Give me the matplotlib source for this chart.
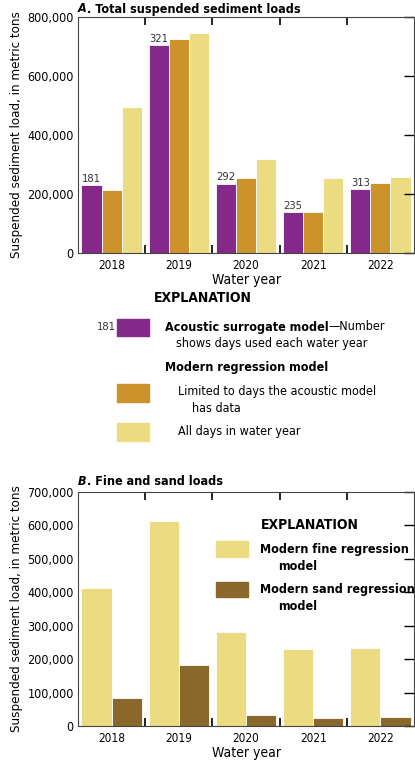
import numpy as np
import matplotlib.pyplot as plt
from matplotlib.patches import Rectangle
from matplotlib.ticker import FuncFormatter

plt.rcParams["font.family"] = ["DejaVu Sans"]
plt.rcParams["font.stretch"] = "condensed"
plt.rcParams["font.size"] = 8.5

years = ["2018", "2019", "2020", "2021", "2022"]
acoustic = [230000, 704000, 235000, 139000, 216000]
limited = [212000, 724000, 255000, 139000, 238000]
all_days = [494000, 747000, 319000, 255000, 259000]
days_used = [181, 321, 292, 235, 313]
fine = [414000, 612000, 280000, 231000, 233000]
sand = [83000, 183000, 33000, 25000, 26000]

PURPLE = "#84288A"
ORANGE = "#CC922B"
YELLOW = "#EBDC82"
BROWN = "#8A672B"

W, H = 415, 763
fig = plt.figure(figsize=(W / 100, H / 100), dpi=100)


def px_axes(left, top, right, bottom):
    return fig.add_axes([left / W, 1 - bottom / H, (right - left) / W, (bottom - top) / H])


def style(ax, ymax, step):
    x = np.arange(len(years))
    ax.set_xlim(-0.5, len(years) - 0.5)
    ax.set_ylim(0, ymax)
    ax.set_xticks(x)
    ax.set_xticklabels(years)
    ax.tick_params(axis="x", which="major", length=0, pad=4)
    ax.set_xticks(x[:-1] + 0.5, minor=True)
    ax.tick_params(axis="x", which="minor", direction="in", length=6, top=True, bottom=True, width=1.2)
    ax.set_yticks(np.arange(0, ymax + 1, step))
    ax.yaxis.set_major_formatter(FuncFormatter(lambda v, p: f"{int(v):,}"))
    ax.tick_params(axis="y", which="major", direction="in", left=False, right=True,
                   length=7, width=1, pad=3, labelsize=9)
    for s in ax.spines.values():
        s.set_color("#444444")
    ax.set_xlabel("Water year", fontsize=10, labelpad=1)
    ax.set_ylabel("Suspended sediment load, in metric tons", fontsize=9.5, labelpad=3)


def title(ypx, letter, rest):
    t = fig.text(78 / W, 1 - ypx / H, letter, fontsize=9, fontweight="bold", style="italic", va="center")
    fig.text(0, 0, rest, fontsize=9, fontweight="bold", va="center",
             transform=fig.transFigure).set_visible(False)
    plt.annotate(rest, xy=(1, 0.5), xycoords=t, va="center", fontsize=9, fontweight="bold")


# Panel A
axA = px_axes(78, 17, 414, 253)
x = np.arange(len(years))
bw = 0.3
axA.bar(x - bw, acoustic, bw, color=PURPLE, edgecolor="white", linewidth=0.6)
axA.bar(x, limited, bw, color=ORANGE, edgecolor="white", linewidth=0.6)
axA.bar(x + bw, all_days, bw, color=YELLOW, edgecolor="white", linewidth=0.6)
for xi, v, d in zip(x, acoustic, days_used):
    axA.text(xi - bw, v + 4000, str(d), ha="center", va="bottom", fontsize=8, color="#333333")
style(axA, 800000, 200000)
title(9, "A", ". Total suspended sediment loads")


def box(x0, y0, x1, y1, color):
    fig.add_artist(Rectangle((x0 / W, 1 - y1 / H), (x1 - x0) / W, (y1 - y0) / H,
                             transform=fig.transFigure, color=color))


def ftxt(xp, yp, s, **kw):
    return fig.text(xp / W, 1 - yp / H, s, va="center", **kw)


# Explanation for panel A
ftxt(203, 298, "EXPLANATION", fontsize=10, fontweight="bold", ha="center")
ftxt(97, 327, "181", fontsize=8, color="#333333")
box(117, 319, 149, 336, PURPLE)
t = ftxt(165, 327, "Acoustic surrogate model", fontsize=9, fontweight="bold")
plt.annotate("\u2014Number", xy=(1, 0.5), xycoords=t, va="center", fontsize=9)
ftxt(176, 344, "shows days used each water year", fontsize=9)
ftxt(165, 367, "Modern regression model", fontsize=9, fontweight="bold")
box(117, 384, 149, 402, ORANGE)
ftxt(178, 392, "Limited to days the acoustic model", fontsize=9)
ftxt(192, 409, "has data", fontsize=9)
box(117, 423, 149, 441, YELLOW)
ftxt(178, 432, "All days in water year", fontsize=9)

# Panel B
axB = px_axes(78, 492, 414, 726)
bw2 = 0.45
axB.bar(x - bw2 / 2, fine, bw2, color=YELLOW, edgecolor="white", linewidth=0.6)
axB.bar(x + bw2 / 2, sand, bw2, color=BROWN, edgecolor="white", linewidth=0.6)
style(axB, 700000, 100000)
title(481, "B", ". Fine and sand loads")

ftxt(310, 525, "EXPLANATION", fontsize=10, fontweight="bold", ha="center")
box(216, 541, 248, 557, YELLOW)
ftxt(260, 549, "Modern fine regression", fontsize=9, fontweight="bold")
ftxt(278, 566, "model", fontsize=9, fontweight="bold")
box(216, 582, 248, 597, BROWN)
ftxt(260, 589, "Modern sand regression", fontsize=9, fontweight="bold")
ftxt(278, 606, "model", fontsize=9, fontweight="bold")

fig.savefig("out.png", dpi=100)
